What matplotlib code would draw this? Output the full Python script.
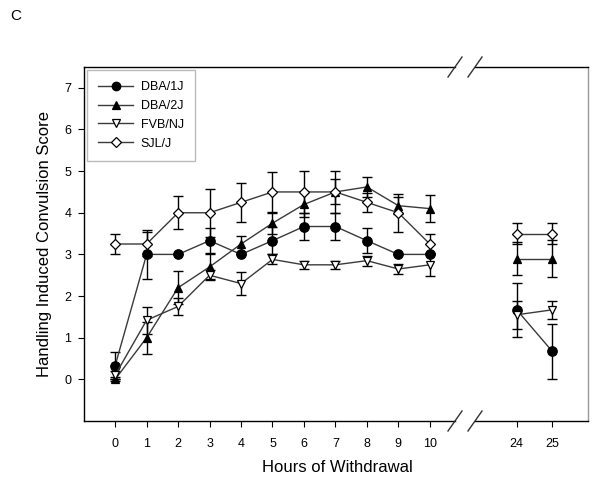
import matplotlib
matplotlib.use("Agg")
import matplotlib.pyplot as plt
from matplotlib.lines import Line2D

plt.rcParams['font.family'] = ['Liberation Sans', 'DejaVu Sans']

hours_a = [0, 1, 2, 3, 4, 5, 6, 7, 8, 9, 10]
hours_b = [24, 25]
labels = ["DBA/1J", "DBA/2J", "FVB/NJ", "SJL/J"]

dba1_a = [0.33, 3.0, 3.0, 3.33, 3.0, 3.33, 3.67, 3.67, 3.33, 3.0, 3.0]
dba1_b = [1.67, 0.67]
dba1_se_a = [0.33, 0.58, 0.0, 0.3, 0.0, 0.33, 0.33, 0.33, 0.3, 0.0, 0.0]
dba1_se_b = [0.65, 0.67]

dba2_a = [0.0, 1.0, 2.2, 2.7, 3.25, 3.75, 4.2, 4.5, 4.62, 4.17, 4.1]
dba2_b = [2.9, 2.9]
dba2_se_a = [0.05, 0.38, 0.4, 0.3, 0.2, 0.25, 0.3, 0.3, 0.25, 0.2, 0.33]
dba2_se_b = [0.4, 0.45]

fvb_a = [0.1, 1.42, 1.75, 2.5, 2.3, 2.88, 2.75, 2.75, 2.85, 2.65, 2.75]
fvb_b = [1.55, 1.67]
fvb_se_a = [0.1, 0.32, 0.2, 0.12, 0.27, 0.12, 0.1, 0.1, 0.12, 0.12, 0.28]
fvb_se_b = [0.33, 0.22]

sjl_a = [3.25, 3.25, 4.0, 4.0, 4.25, 4.5, 4.5, 4.5, 4.25, 4.0, 3.25]
sjl_b = [3.5, 3.5]
sjl_se_a = [0.25, 0.3, 0.4, 0.57, 0.47, 0.48, 0.5, 0.5, 0.23, 0.45, 0.24]
sjl_se_b = [0.25, 0.25]

yticks = [0, 1, 2, 3, 4, 5, 6, 7]

W, H = 600, 486
fig = plt.figure(figsize=(6.0, 4.86), dpi=100)

def fx(px):
    return px / W

def fy(py):
    return 1 - py / H

ax_l, ax_r, ax_t, ax_b = 84, 588, 67, 421
brk1, brk2 = 455, 475
ax1 = fig.add_axes([fx(ax_l), fy(ax_b), fx(brk1 - ax_l), (ax_b - ax_t) / H])
ax2 = fig.add_axes([fx(brk2), fy(ax_b), fx(ax_r - brk2), (ax_b - ax_t) / H], sharey=ax1)

series = [
    (dba1_a, dba1_b, dba1_se_a, dba1_se_b, 'o', 'black', 6.8),
    (dba2_a, dba2_b, dba2_se_a, dba2_se_b, '^', 'black', 5.8),
    (fvb_a, fvb_b, fvb_se_a, fvb_se_b, 'v', 'white', 5.8),
    (sjl_a, sjl_b, sjl_se_a, sjl_se_b, 'D', 'white', 5.3),
]

handles = []
for (ya, yb, sa, sb, m, fc, ms), lab in zip(series, labels):
    for ax, xs, ys, ss in ((ax1, hours_a, ya, sa), (ax2, hours_b, yb, sb)):
        ax.errorbar(xs, ys, yerr=ss, fmt='none', ecolor='black',
                    elinewidth=1.0, capsize=3.5, capthick=1.0, zorder=2)
        h, = ax.plot(xs, ys, '-', color='#3a3a3a', lw=1.0, marker=m,
                     markersize=ms, markerfacecolor=fc, markeredgecolor='black',
                     markeredgewidth=0.9, zorder=3, label=lab)
    handles.append(h)

ax1.set_xlim(-0.99, 10.8)
ax2.set_xlim(22.83, 26.0)
ax1.set_ylim(-1, 7.5)
ax1.set_xticks(hours_a)
ax2.set_xticks(hours_b)
ax1.set_yticks(yticks)

for ax in (ax1, ax2):
    ax.tick_params(direction='out', length=4, width=0.8, labelsize=9,
                   colors='black', pad=5)
    for s in ax.spines.values():
        s.set_linewidth(1.0)

ax1.spines['right'].set_visible(False)
ax2.spines['left'].set_visible(False)
ax2.spines['right'].set_color('#999999')
ax2.tick_params(axis='y', left=False, labelleft=False)
ax1.tick_params(axis='x', pad=8)
ax2.tick_params(axis='x', pad=8)

# break marks
for cx in (brk1, brk2):
    for cy in (ax_t, ax_b):
        fig.add_artist(Line2D([fx(cx - 7), fx(cx + 7)], [fy(cy + 10), fy(cy - 10)],
                              color='#333333', lw=1.0, transform=fig.transFigure))

ax1.set_ylabel("Handling Induced Convulsion Score", fontsize=12, labelpad=9)
fig.text(fx(337), fy(467), "Hours of Withdrawal", fontsize=12,
         ha='center', va='center')
fig.text(fx(10), fy(16), "C", fontsize=11, ha='left', va='center')

leg = ax1.legend(handles=handles, loc='upper left', bbox_to_anchor=(0.008, 0.992),
                 fontsize=9, frameon=True, fancybox=False, handlelength=2.8,
                 borderpad=0.9, labelspacing=0.55, handletextpad=0.6,
                 borderaxespad=0.0, markerscale=0.9)
leg.get_frame().set_edgecolor('#aaaaaa')
leg.get_frame().set_linewidth(1.0)

fig.savefig("out.png", dpi=100)
